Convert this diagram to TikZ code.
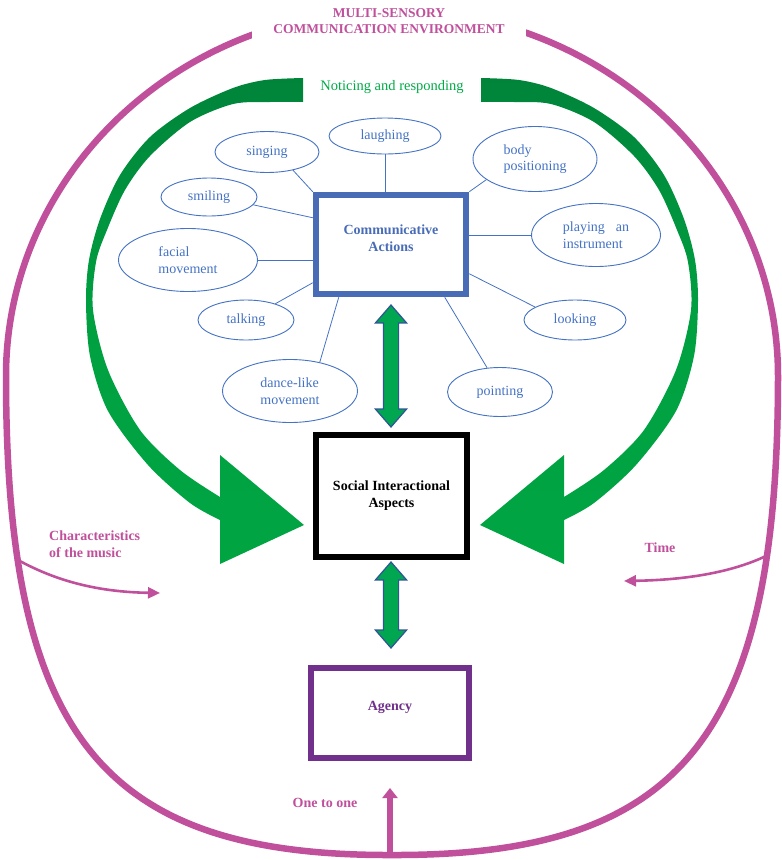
\documentclass[tikz,border=0pt]{standalone}
\usepackage{fontspec}
\setmainfont{Liberation Serif}
\usetikzlibrary{shapes.geometric,shapes.arrows,arrows.meta,calc}
\definecolor{mag}{RGB}{192,80,155}
\definecolor{ablue}{RGB}{68,114,196}
\definecolor{cabox}{RGB}{72,108,182}
\definecolor{purp}{RGB}{112,48,140}
\definecolor{gdark}{RGB}{0,132,58}
\definecolor{glight}{RGB}{0,165,66}
\definecolor{gtext}{RGB}{0,170,70}
\definecolor{darrow}{RGB}{0,166,80}
\definecolor{darrowb}{RGB}{47,85,151}
\begin{document}
\begin{tikzpicture}[x=1pt,y=-1pt,
  act/.style={ellipse, draw=ablue, line width=0.9pt, text=ablue, inner sep=0pt,
    font=\fontsize{14}{16.5}\selectfont, align=center},
  lnk/.style={draw=ablue, line width=0.8pt},
  magtxt/.style={text=mag, font=\bfseries\fontsize{14}{17}\selectfont, inner sep=0pt},
  bigbox/.style={rectangle, line width=6.5pt, font=\bfseries\fontsize{14}{17}\selectfont, align=center},
  darr/.style={double arrow, fill=darrow, draw=darrowb, line width=1.2pt, rotate=90,
    minimum width=30pt, double arrow head extend=8pt, double arrow tip angle=82, inner sep=7pt},
  magline/.style={draw=mag, line width=2.6pt, -{Triangle[length=12pt,width=11pt]}},
  greenarrow/.style={top color=gdark, bottom color=glight, middle color=glight!85!gdark}
]
\useasboundingbox (0,0) rectangle (782,860);

% environment outline
\draw[mag, line width=6.5pt] (6,376) .. controls (6,174) and (179,10) .. (392,10)
  .. controls (605,10) and (778,174) .. (778,376)
  .. controls (778,736) and (682,856) .. (392,855)
  .. controls (102,856) and (6,736) .. (6,376) -- cycle;

\node[fill=white, text=mag, font=\bfseries\fontsize{13.5}{16.5}\selectfont, align=center,
  inner sep=0pt, minimum width=274pt, minimum height=42pt]
  (title) at (389,21) {MULTI-SENSORY\\COMMUNICATION ENVIRONMENT};

% green curved arrows
\def\greenshape{%
\shade[greenarrow] plot[smooth] coordinates {(303,78) (265,80) (233,88) (190,108) (150,137) (120,175) (100,219) (89,260) (86,301) (90,356) (108,411) (148,465) (190,503) (220,520)}
  -- (220,564) -- (304,525) -- (220,455)
  -- plot[smooth] coordinates {(220,497) (180,470) (140,430) (108,370) (93,310) (96,262) (107,230) (125,190) (150,156) (190,122) (233,104) (270,102) (303,102)} -- cycle;}
\greenshape
\begin{scope}[xshift=784pt, xscale=-1]
\greenshape
\end{scope}
\node[text=gtext, font=\fontsize{14.5}{17}\selectfont, inner sep=0pt] (notice) at (392,87) {Noticing and responding};

% main boxes
\node[bigbox, draw=cabox, text=cabox, minimum width=150pt, minimum height=99pt] (ca) at (391,244.5)
  {\raisebox{5pt}[\height][\depth]{\begin{tabular}{@{}c@{}}Communicative\\Actions\end{tabular}}};
\node[bigbox, draw=black, text=black, minimum width=151pt, minimum height=122pt] (sia) at (391.5,496) {Social Interactional\\Aspects};
\node[bigbox, draw=purp, text=purp, minimum width=158pt, minimum height=90pt] (agency) at (390,713)
  {\raisebox{6pt}[\height][\depth]{Agency}};

% double arrows
\node[darr, minimum height=122pt] (d1) at (391,366) {};
\node[darr, minimum height=86pt] (d2) at (391,605) {};

% communicative actions
\node[act, minimum width=112pt, minimum height=36pt] (laughing) at (385,136) {laughing};
\node[act, minimum width=104pt, minimum height=41pt] (singing) at (267,152) {singing};
\node[act, minimum width=96pt, minimum height=38pt] (smiling) at (209,197) {smiling};
\node[act, minimum width=139pt, minimum height=63pt, align=left, xshift=-6pt] (facial) at (194,260) {facial\\movement};
\node[act, minimum width=96pt, minimum height=40pt] (talking) at (246,320) {talking};
\node[act, minimum width=135pt, minimum height=63pt, align=left] (dance) at (290,391) {dance-like\\movement};
\node[act, minimum width=124pt, minimum height=65pt, align=left] (body) at (535,159) {body\\positioning};
\node[act, minimum width=129pt, minimum height=63pt, align=left] (playing) at (596,235) {playing\hspace{11pt}an\\instrument};
\node[act, minimum width=102pt, minimum height=40pt] (looking) at (575,320) {looking};
\node[act, minimum width=105pt, minimum height=49pt] (pointing) at (500,392) {pointing};

\draw[lnk] (laughing.south) -- (laughing.south |- ca.north);
\draw[lnk] (singing.-35) -- (ca.north west);
\draw[lnk] (smiling.-10) -- ($(ca.north west)+(0,26)$);
\draw[lnk] (facial.east) -- (facial.east -| ca.west);
\draw[lnk] (talking.29) -- ($(ca.north west)+(0,91)$);
\draw[lnk] (dance.44) -- ($(ca.south west)+(26,0)$);
\draw[lnk] (pointing.118) -- ($(ca.south west)+(132,0)$);
\draw[lnk] (looking.162) -- ($(ca.north east)+(0,82)$);
\draw[lnk] (playing.west) -- (playing.west -| ca.east);
\draw[lnk] (body.203) -- (ca.north east);

% side influences
\node[magtxt, align=left, anchor=west] (charlbl) at (49,544) {Characteristics\\of the music};
\coordinate (cstart) at (18,560);
\coordinate (cend) at (160,593);
\draw[magline] (cstart) .. controls (58,582) and (100,592) .. (cend);

\node[magtxt] (timelbl) at (660,548) {Time};
\coordinate (tstart) at (766,556);
\coordinate (tend) at (624,581);
\draw[magline] (tstart) .. controls (728,574) and (680,580) .. (tend);

\node[magtxt] (onelbl) at (325,803) {One to one};
\coordinate (ostart) at (390,856);
\coordinate (oend) at (390,788);
\draw[draw=mag, line width=5.5pt, -{Triangle[length=10pt,width=15pt]}] (ostart) -- (oend);
\end{tikzpicture}
\end{document}
